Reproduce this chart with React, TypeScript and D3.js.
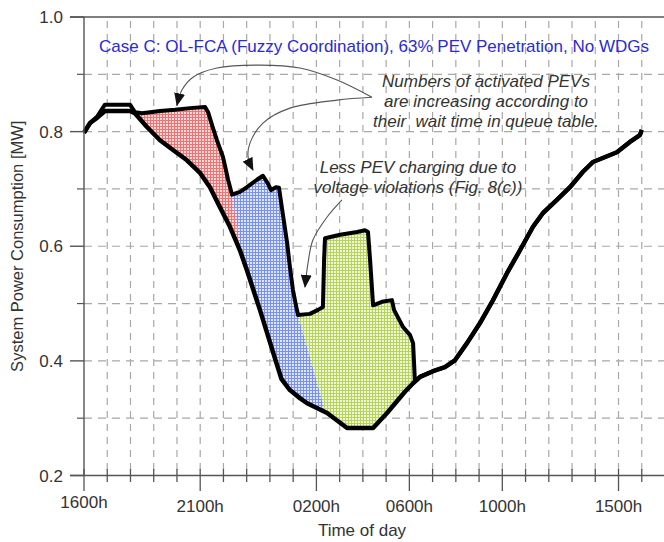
import React from 'react';
import * as d3 from 'd3';

// ---- data (hours since 16:00, MW) ----
const xTickHours = [0, 5, 10, 14, 18, 23];
const xTickLabels = ['1600h', '2100h', '0200h', '0600h', '1000h', '1500h'];
const yMajorTicks = [0.2, 0.4, 0.6, 0.8, 1.0];
const yMinorTicks = [0.3, 0.5, 0.7, 0.9];
const yTickLabels = ['0.2', '0.4', '0.6', '0.8', '1.0'];

const baseLoad: [number, number][] = [
  [0, 0.798], [0.26, 0.815], [0.56, 0.824], [0.9, 0.836], [1.98, 0.836], [2.19, 0.832],
  [2.71, 0.808], [3.27, 0.785], [3.83, 0.768], [4.43, 0.75], [4.99, 0.728], [5.42, 0.703],
  [5.85, 0.668], [6.28, 0.634], [6.71, 0.593], [7.01, 0.558], [7.57, 0.489], [8.25, 0.4],
  [8.5, 0.368], [8.86, 0.349], [9.29, 0.335], [9.6, 0.326], [10.46, 0.309], [11.32, 0.283],
  [12.44, 0.283], [13.04, 0.309], [13.81, 0.346], [14.16, 0.361], [14.46, 0.372], [15.02, 0.382],
  [15.53, 0.389], [15.96, 0.401], [16.48, 0.431], [17.04, 0.466], [17.6, 0.506], [18.2, 0.553],
  [18.76, 0.593], [19.32, 0.634], [19.75, 0.658], [20.35, 0.681], [20.91, 0.703], [21.47, 0.73],
  [21.9, 0.747], [22.93, 0.764], [23.49, 0.782], [23.92, 0.794], [24.0, 0.803],
];

const totalLoad: [number, number][] = [
  [0, 0.798], [0.26, 0.815], [0.56, 0.826], [0.9, 0.847], [1.98, 0.847], [2.19, 0.834],
  [2.5, 0.832], [3.27, 0.836], [3.92, 0.838], [4.56, 0.841], [5.21, 0.843], [5.34, 0.834],
  [5.55, 0.806], [5.72, 0.785], [5.98, 0.756], [6.2, 0.716], [6.37, 0.69], [6.71, 0.695],
  [7.01, 0.703], [7.44, 0.716], [7.7, 0.723], [7.92, 0.709], [8.05, 0.698], [8.26, 0.703],
  [8.39, 0.702], [8.56, 0.655], [8.74, 0.606], [8.86, 0.564], [8.99, 0.524], [9.12, 0.497],
  [9.21, 0.48], [9.72, 0.482], [10.07, 0.489], [10.28, 0.494], [10.33, 0.576], [10.37, 0.614],
  [11.02, 0.62], [11.75, 0.625], [12.09, 0.628], [12.22, 0.625], [12.31, 0.576], [12.44, 0.497],
  [12.82, 0.503], [13.25, 0.506], [13.34, 0.489], [13.73, 0.459], [14.03, 0.445], [14.16, 0.431],
  [14.2, 0.398], [14.24, 0.364], [14.46, 0.372], [15.02, 0.382], [15.53, 0.389], [15.96, 0.401],
  [16.48, 0.431], [17.04, 0.466], [17.6, 0.506], [18.2, 0.553], [18.76, 0.593], [19.32, 0.634],
  [19.75, 0.658], [20.35, 0.681], [20.91, 0.703], [21.47, 0.73], [21.9, 0.747], [22.93, 0.764],
  [23.49, 0.782], [23.92, 0.794], [24.0, 0.803],
];

const pevStartHour = 2.19;
const pevEndHour = 14.24;
const redBlueSplit: [number, number][] = [[6.37, 0.69], [6.8, 0.583]];
const blueGreenSplit: [number, number][] = [[9.21, 0.48], [10.4, 0.31]];

const arrow1: [number, number][] = [[12.39, 0.86], [10.89, 0.89], [9.29, 0.911], [7.57, 0.916], [5.72, 0.911], [4.69, 0.895], [4.22, 0.873], [4.0, 0.846]];
const arrow2: [number, number][] = [[12.39, 0.86], [10.89, 0.855], [8.86, 0.841], [7.7, 0.815], [7.14, 0.78], [7.06, 0.756], [7.27, 0.733]];
const arrow3: [number, number][] = [[11.1, 0.681], [10.46, 0.651], [9.85, 0.611], [9.64, 0.571], [9.51, 0.529]];

const titleText = 'Case C: OL-FCA (Fuzzy Coordination), 63% PEV Penetration, No WDGs';
const note1 = ['Numbers of activated PEVs', 'are increasing according to', 'their  wait time in queue table.'];
const note2 = ['Less PEV charging due to', 'voltage violations (Fig. 8(c))'];

const W = 664;
const H = 542;

export default function App() {
  const left = 84;
  const top = 17;
  const bottom = 475.5;
  const pxPerHour = 23.24;
  const x = d3.scaleLinear().domain([0, 25]).range([left, left + 25 * pxPerHour]);
  const y = d3.scaleLinear().domain([0.2, 1.0]).range([bottom, top]);

  const line = d3.line<[number, number]>().x((d) => x(d[0])).y((d) => y(d[1]));
  const arrowLine = d3
    .line<[number, number]>()
    .x((d) => x(d[0]))
    .y((d) => y(d[1]))
    .curve(d3.curveCatmullRom.alpha(0.5));

  const upperPart = totalLoad.filter((d) => d[0] >= pevStartHour && d[0] <= pevEndHour);
  const lowerPart = baseLoad.filter((d) => d[0] >= pevStartHour && d[0] < pevEndHour).reverse();
  const fillPath = line([...upperPart, ...lowerPart]) + 'Z';

  const splitBoundary = (s: [number, number][]) => {
    const p1 = [x(s[0][0]), y(s[0][1])];
    const p2 = [x(s[1][0]), y(s[1][1])];
    const k = (p2[0] - p1[0]) / (p2[1] - p1[1]);
    const xb = p1[0] + (H - p1[1]) * k;
    return { topPt: [p1[0], 0], p1, p2, botPt: [xb, H] };
  };
  const b1 = splitBoundary(redBlueSplit);
  const b2 = splitBoundary(blueGreenSplit);
  const pts = (arr: number[][]) => arr.map((p) => p.join(',')).join(' ');
  const clipRed = pts([[0, 0], b1.topPt, b1.p1, b1.p2, b1.botPt, [0, H]]);
  const clipBlue = pts([b1.topPt, b2.topPt, b2.p1, b2.p2, b2.botPt, b1.botPt, b1.p2, b1.p1]);
  const clipGreen = pts([b2.topPt, [W, 0], [W, H], b2.botPt, b2.p2, b2.p1]);

  const hourGrid = d3.range(1, 26);
  const allHours = d3.range(0, 26);
  const gridColor = '#a8a8a8';
  const axisColor = '#555';
  const textColor = '#333';
  const font = "'Liberation Sans', Arial, Helvetica, sans-serif";

  return (
    <svg width={W} height={H} style={{ position: 'absolute', left: 0, top: 0, background: '#fff' }} fontFamily={font}>
      <defs>
        <pattern id="pRed" width="3" height="3" patternUnits="userSpaceOnUse">
          <rect width="3" height="3" fill="#fcd8d8" />
          <path d="M0,0.5H3M0.5,0V3" stroke="#f07272" strokeWidth="1" />
        </pattern>
        <pattern id="pBlue" width="3" height="3" patternUnits="userSpaceOnUse">
          <rect width="3" height="3" fill="#dfe6fc" />
          <path d="M0,0.5H3M0.5,0V3" stroke="#7890f0" strokeWidth="1" />
        </pattern>
        <pattern id="pGreen" width="3" height="3" patternUnits="userSpaceOnUse">
          <rect width="3" height="3" fill="#f0f6d8" />
          <path d="M0,0.5H3M0.5,0V3" stroke="#b6d45c" strokeWidth="1" />
        </pattern>
        <clipPath id="cRed"><polygon points={clipRed} /></clipPath>
        <clipPath id="cBlue"><polygon points={clipBlue} /></clipPath>
        <clipPath id="cGreen"><polygon points={clipGreen} /></clipPath>
        <marker id="arrowHead" markerUnits="userSpaceOnUse" markerWidth="13" markerHeight="11" viewBox="0 0 13 11" refX="12" refY="5.5" orient="auto">
          <path d="M0,0 L13,5.5 L0,11 Z" fill="#111" />
        </marker>
      </defs>

      {/* grid */}
      {yMinorTicks.concat(yMajorTicks.filter((v) => v > 0.2 && v < 1.0)).map((v) => (
        <line key={'hg' + v} x1={left} x2={W} y1={y(v)} y2={y(v)} stroke={gridColor} strokeWidth={1.2} strokeDasharray="8,6" />
      ))}
      {hourGrid.map((h) => (
        <line key={'vg' + h} x1={x(h)} x2={x(h)} y1={top} y2={bottom} stroke={gridColor} strokeWidth={1.2} strokeDasharray="7,6" strokeDashoffset={-4} />
      ))}

      {/* PEV regions */}
      <path d={fillPath} fill="url(#pRed)" clipPath="url(#cRed)" />
      <path d={fillPath} fill="url(#pBlue)" clipPath="url(#cBlue)" />
      <path d={fillPath} fill="url(#pGreen)" clipPath="url(#cGreen)" />

      {/* curves */}
      <path d={line(baseLoad) || ''} fill="none" stroke="#000" strokeWidth={4.5} strokeLinejoin="round" />
      <path d={line(totalLoad) || ''} fill="none" stroke="#000" strokeWidth={4} strokeLinejoin="round" />

      {/* axes */}
      <line x1={70} x2={W} y1={top} y2={top} stroke={axisColor} strokeWidth={1.4} />
      <line x1={left} x2={left} y1={top} y2={bottom} stroke={axisColor} strokeWidth={1.4} />
      <line x1={70} x2={W} y1={bottom} y2={bottom} stroke={axisColor} strokeWidth={1.4} />
      {yMajorTicks.map((v) => (
        <line key={'ymt' + v} x1={70} x2={left} y1={y(v)} y2={y(v)} stroke={axisColor} strokeWidth={1.4} />
      ))}
      {yMinorTicks.map((v) => (
        <line key={'ymn' + v} x1={77} x2={left} y1={y(v)} y2={y(v)} stroke={axisColor} strokeWidth={1.2} />
      ))}
      {allHours.map((h) => (
        <line key={'xt' + h} x1={x(h)} x2={x(h)} y1={469} y2={xTickHours.includes(h) ? 491 : 482} stroke={axisColor} strokeWidth={1.3} />
      ))}
      {yMajorTicks.map((v, i) => (
        <text key={'yl' + v} x={63} y={y(v)} dy="0.36em" textAnchor="end" fontSize={17} fill={textColor}>
          {yTickLabels[i]}
        </text>
      ))}
      {xTickHours.map((h, i) => (
        <text key={'xl' + h} x={x(h)} y={i === 0 ? 508 : 512} textAnchor="middle" fontSize={17} fill={textColor}>
          {xTickLabels[i]}
        </text>
      ))}
      <text x={362} y={536} textAnchor="middle" fontSize={17} fill={textColor}>Time of day</text>
      <text transform={`translate(23,${(top + bottom) / 2}) rotate(-90)`} textAnchor="middle" fontSize={16.5} fill={textColor}>
        System Power Consumption [MW]
      </text>

      {/* title */}
      <text x={374} y={52} textAnchor="middle" fontSize={17} fill="#2a2ad8">{titleText}</text>

      {/* annotations */}
      {note1.map((t, i) => (
        <text key={'n1' + i} x={486} y={87 + i * 20} textAnchor="middle" fontSize={17} fontStyle="italic" fill={textColor} style={{ whiteSpace: 'pre' }}>
          {t}
        </text>
      ))}
      {note2.map((t, i) => (
        <text key={'n2' + i} x={418} y={173 + i * 20} textAnchor="middle" fontSize={17} fontStyle="italic" fill={textColor}>
          {t}
        </text>
      ))}
      {[arrow1, arrow2, arrow3].map((a, i) => (
        <path key={'ar' + i} d={arrowLine(a) || ''} fill="none" stroke="#555" strokeWidth={1.1} markerEnd="url(#arrowHead)" />
      ))}
    </svg>
  );
}
